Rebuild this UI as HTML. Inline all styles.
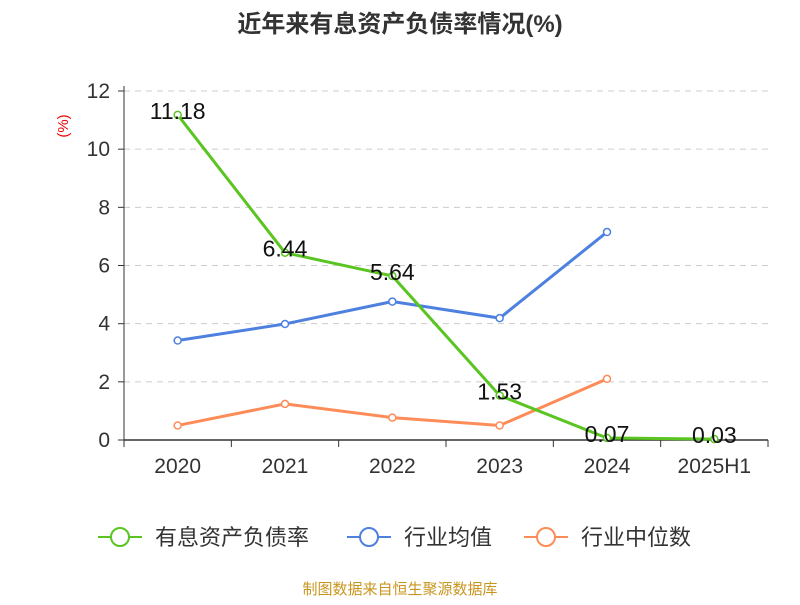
<!DOCTYPE html>
<html><head><meta charset="utf-8"><style>
body{margin:0;background:#fff;font-family:"Liberation Sans","Noto Sans CJK SC",sans-serif;}
</style></head><body>
<svg id="chart" width="800" height="600" xmlns="http://www.w3.org/2000/svg" font-family="Liberation Sans, Noto Sans CJK SC, sans-serif">
<text x="400" y="32" text-anchor="middle" font-size="24" font-weight="bold" fill="#333">近年来有息资产负债率情况(%)</text>
<text x="68" y="126" fill="#e00" font-size="15" transform="rotate(-90 68 126)" text-anchor="middle">(%)</text>
<g id="grid"></g><g id="axes"></g><g id="series"></g>
<g>
<g><line x1="98" y1="537" x2="142" y2="537" stroke="#5ac421" stroke-width="2"/><circle cx="120" cy="537" r="9" fill="#fff" stroke="#5ac421" stroke-width="2"/><text x="155" y="545" font-size="22" fill="#333">有息资产负债率</text></g>
<g><line x1="347" y1="537" x2="391" y2="537" stroke="#4e80e0" stroke-width="2"/><circle cx="369" cy="537" r="9" fill="#fff" stroke="#4e80e0" stroke-width="2"/><text x="404" y="545" font-size="22" fill="#333">行业均值</text></g>
<g><line x1="524" y1="537" x2="568" y2="537" stroke="#fd8c58" stroke-width="2"/><circle cx="546" cy="537" r="9" fill="#fff" stroke="#fd8c58" stroke-width="2"/><text x="581" y="545" font-size="22" fill="#333">行业中位数</text></g>
</g>
<text x="400" y="594" text-anchor="middle" font-size="15" fill="#c8961e">制图数据来自恒生聚源数据库</text>
</svg>
<script>
const categories=["2020","2021","2022","2023","2024","2025H1"];
const debtRatio=[11.18,6.44,5.64,1.53,0.07,0.03];
const debtLabels=["11.18","6.44","5.64","1.53","0.07","0.03"];
const industryAvg=[3.42,3.99,4.76,4.19,7.15];
const industryMedian=[0.5,1.24,0.77,0.5,2.1];
const yTicks=[0,2,4,6,8,10,12];
const NS="http://www.w3.org/2000/svg";
const L=124,R=768,T=91,B=440;
const bw=(R-L)/categories.length;
const xs=i=>L+bw*(i+0.5);
const ys=v=>B-(v/12)*(B-T);
function mk(tag,attrs,parent){const e=document.createElementNS(NS,tag);for(const k in attrs)e.setAttribute(k,attrs[k]);parent.appendChild(e);return e;}
const grid=document.getElementById('grid'),axes=document.getElementById('axes'),ser=document.getElementById('series');
yTicks.forEach(t=>{
 if(t>0){const g=mk('line',{x1:L,x2:R,y1:ys(t),y2:ys(t),stroke:'#ccc','stroke-dasharray':'6,5'},grid);
 
 }
 const tk=mk('line',{x1:L-6,x2:L,y1:ys(t),y2:ys(t),stroke:'#333'},axes);
 
 
 const tx=mk('text',{x:L-14,y:ys(t)+7,'text-anchor':'end','font-size':21,fill:'#333'},axes);
 tx.textContent=t;
 
 
});
const ya=mk('line',{x1:L,x2:L,y1:T-5,y2:B,stroke:'#333'},axes);


const xa=mk('line',{x1:L,x2:R,y1:B,y2:B,stroke:'#333','stroke-width':1.5},axes);


for(let i=0;i<=categories.length;i++){const tk=mk('line',{x1:L+bw*i,x2:L+bw*i,y1:B,y2:B+7,stroke:'#333'},axes);
 
 }
categories.forEach((c,i)=>{const tx=mk('text',{x:xs(i),y:B+33,'text-anchor':'middle','font-size':21,fill:'#333'},axes);
 tx.textContent=c;
 
 });
function series(vals,color,name){
 const g=mk('g',{},ser);
 
 
 const p=mk('polyline',{points:vals.map((v,i)=>xs(i)+','+ys(v)).join(' '),fill:'none',stroke:color,'stroke-width':3},g);
 
 
 vals.forEach((v,i)=>{const c=mk('circle',{cx:xs(i),cy:ys(v),r:3.5,fill:'#fff',stroke:color,'stroke-width':1.5},g);
 
 });
}
series(industryMedian,'#fd8c58','industry-median');
series(industryAvg,'#4e80e0','industry-average');
series(debtRatio,'#5ac421','debt-ratio');
debtRatio.forEach((v,i)=>{const tx=mk('text',{x:xs(i),y:ys(v)+4,'text-anchor':'middle','font-size':23,fill:'#111'},ser);
 tx.textContent=debtLabels[i];
 
 });
</script>
</body></html>
